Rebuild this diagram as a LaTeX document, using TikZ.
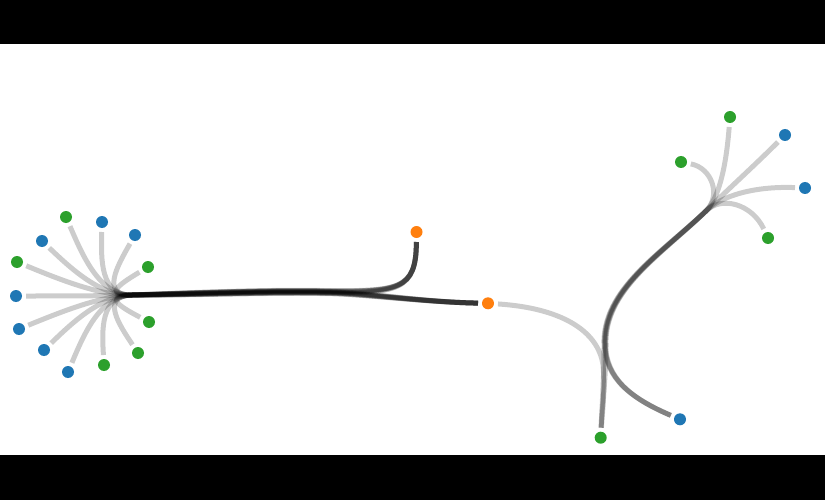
\documentclass[tikz,border=0pt]{standalone}
\usetikzlibrary{calc}
\definecolor{cblue}{HTML}{1F77B4}
\definecolor{cgreen}{HTML}{2CA02C}
\definecolor{corange}{HTML}{FF7F0E}
\tikzset{
  link/.style={draw=black,draw opacity=0.2,line width=5pt},
  dot/.style={circle,inner sep=0pt,minimum size=12pt,draw=none}
}
% left leaf -> hub -> bundle -> orange O1
\newcommand\lefttoA[2]{%
  \path ($(#1)!0.5!(Hc)$) coordinate (tc);
  \draw[link] ($(#1)!10pt!(tc)$) .. controls (tc) and (Hc) .. (H)
    .. controls (190,{294+(#2)}) and (270,{291+(#2)}) .. (320,{292+(#2)})
    .. controls (400,{293+(#2)}) and (416,290) .. ($(O1)!10pt!(416,290)$);}
% left leaf -> hub -> bundle -> orange O2
\newcommand\lefttoB[2]{%
  \path ($(#1)!0.5!(Hc)$) coordinate (tc);
  \draw[link] ($(#1)!10pt!(tc)$) .. controls (tc) and (Hc) .. (H)
    .. controls (190,{294+(#2)}) and (270,{291+(#2)}) .. (320,{292+(#2)})
    .. controls (360,{292+(#2)}) and (420,302) .. ($(O2)!10pt!(420,302)$);}
% right leaf -> hub -> stem -> blue RB
\newcommand\righttoB[3]{%
  \draw[link] ($(#1)!10pt!(#2)$) .. controls (#2) and (HRc) .. (HR)
    .. controls ({660+(#3)},255) and ({603+(#3)},290) .. ({605+(#3)},345)
    .. controls ({606+(#3)},378) and (630,398) .. ($(RB)!10pt!(630,398)$);}
% right leaf -> hub -> stem -> green RG
\newcommand\righttoG[3]{%
  \draw[link] ($(#1)!10pt!(#2)$) .. controls (#2) and (HRc) .. (HR)
    .. controls ({660+(#3)},255) and ({603+(#3)},290) .. ({605+(#3)},345)
    .. controls ({605+(#3)},380) and (602,405) .. ($(RG)!10pt!(602,405)$);}
\begin{document}
\begin{tikzpicture}[x=1pt,y=-1pt]
\useasboundingbox (0,0) rectangle (825,500);
\fill[black] (0,0) rectangle (825,44);
\fill[white] (0,44) rectangle (825,455);
\fill[black] (0,455) rectangle (825,500);

% left cluster
\node[dot,fill=cgreen] (L1) at (66,217) {};
\node[dot,fill=cblue] (L2) at (102,222) {};
\node[dot,fill=cblue] (L3) at (135,235) {};
\node[dot,fill=cgreen] (L4) at (148,267) {};
\node[dot,fill=cblue] (L5) at (42,241) {};
\node[dot,fill=cgreen] (L6) at (17,262) {};
\node[dot,fill=cblue] (L7) at (16,296) {};
\node[dot,fill=cblue] (L8) at (19,329) {};
\node[dot,fill=cgreen] (L9) at (149,322) {};
\node[dot,fill=cblue] (L10) at (44,350) {};
\node[dot,fill=cgreen] (L11) at (138,353) {};
\node[dot,fill=cgreen] (L12) at (104,365) {};
\node[dot,fill=cblue] (L13) at (68,372) {};
% orange
\node[dot,fill=corange] (O1) at (416.5,232) {};
\node[dot,fill=corange] (O2) at (488,303.3) {};
% right cluster
\node[dot,fill=cgreen] (R1) at (730,117) {};
\node[dot,fill=cblue] (R2) at (785,135) {};
\node[dot,fill=cgreen] (R3) at (681,162) {};
\node[dot,fill=cblue] (R4) at (805,188) {};
\node[dot,fill=cgreen] (R5) at (768,238) {};
\node[dot,fill=cblue] (RB) at (680,419.3) {};
\node[dot,fill=cgreen] (RG) at (600.7,437.7) {};

\coordinate (H) at (132,295);
\coordinate (Hc) at (100,296);
\coordinate (HR) at (706,211);
\coordinate (HRc) at (721.5,195.5);

\lefttoA{L1}{-1.5}
\lefttoB{L2}{-1}
\lefttoA{L3}{-0.5}
\lefttoB{L4}{0}
\lefttoB{L5}{0.5}
\lefttoA{L6}{1}
\lefttoB{L7}{1.5}
\lefttoA{L8}{-1.2}
\lefttoB{L9}{-0.3}
\lefttoB{L10}{0.8}
\lefttoA{L11}{0.3}
\lefttoB{L12}{1.2}
\lefttoA{L13}{-0.8}

\righttoG{R1}{727,155}{-1}
\righttoB{R2}{755,165}{0}
\righttoG{R3}{712,168}{1}
\righttoB{R4}{755,186}{-0.5}
\righttoB{R5}{752,204}{0.5}

\draw[link] ($(O2)!10pt!(560,308)$) .. controls (560,308) and (598,330) .. (603,365)
  .. controls (605,390) and (603,405) .. ($(RG)!10pt!(603,405)$);
\end{tikzpicture}
\end{document}
